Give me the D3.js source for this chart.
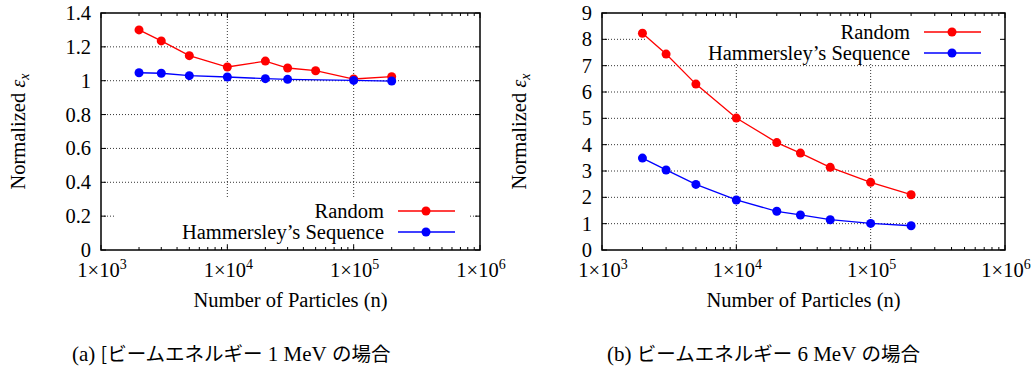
<!DOCTYPE html>
<html>
<head>
<meta charset="utf-8">
<script src="https://cdn.jsdelivr.net/npm/d3@7"></script>
<style>
  body { margin: 0; background: #fff; }
  html body svg#chart text, html body svg#chart tspan { font-family: 'Liberation Serif' !important; }
  html body svg#chart tspan.jp { font-family: 'Noto Sans CJK JP' !important; }
</style>
</head>
<body>
<svg id="chart" width="1033" height="371"></svg>
<script>
// particle counts
var particles = [2000, 3000, 5000, 10000, 20000, 30000, 50000, 100000, 200000];
var particlesHam1 = [2000, 3000, 5000, 10000, 20000, 30000, 100000, 200000];

// (a) 1 MeV
var random1 = [1.30, 1.235, 1.148, 1.081, 1.116, 1.075, 1.059, 1.01, 1.024];
var hammersley1 = [1.047, 1.044, 1.03, 1.022, 1.012, 1.008, 1.002, 0.998];

// (b) 6 MeV
var random6 = [8.23, 7.44, 6.30, 5.01, 4.08, 3.68, 3.14, 2.57, 2.10];
var hammersley6 = [3.49, 3.04, 2.49, 1.90, 1.47, 1.33, 1.15, 1.01, 0.92];

var yTicks1 = [0, 0.2, 0.4, 0.6, 0.8, 1, 1.2, 1.4];
var yTicks6 = [0, 1, 2, 3, 4, 5, 6, 7, 8, 9];
var xDecades = [1e3, 1e4, 1e5, 1e6];
var seriesNames = ["Random", "Hammersley\u2019s Sequence"];
var captions = ["[ビームエネルギー 1 MeV の場合", "ビームエネルギー 6 MeV の場合"];

var SERIF = "'Liberation Serif'";
var JP = "'Noto Sans CJK JP'";
var FS = "20.5px";

var svg = d3.select("#chart");

function serifText(sel) {
    return sel.append("text")
        .attr("font-family", "Liberation Serif")
        .style("font-family", SERIF, "important")
        .style("font-size", FS)
        .style("fill", "#000");
}

function drawPanel(p) {
    var g = svg.append("g");
    var x = d3.scaleLog().domain([1e3, 1e6]).range([p.left, p.right]);
    var y = d3.scaleLinear().domain([0, p.ymax]).range([p.bottom, p.top]);

    // grid
    var grid = g.append("g")
        .attr("stroke", "#000")
        .attr("stroke-width", 0.8)
        .attr("stroke-dasharray", "1,2");
    grid.selectAll("line.h")
        .data(p.yTicks.filter(function (d) { return d > 0 && d < p.ymax; }))
        .enter().append("line")
        .attr("x1", p.left).attr("x2", p.right)
        .attr("y1", function (d) { return y(d); })
        .attr("y2", function (d) { return y(d); });
    grid.selectAll("line.v")
        .data([1e4, 1e5])
        .enter().append("line")
        .attr("x1", function (d) { return x(d); })
        .attr("x2", function (d) { return x(d); })
        .attr("y1", p.top).attr("y2", p.bottom);

    // legend box covers the grid (opaque key)
    g.append("rect")
        .attr("x", p.keyBox[0]).attr("y", p.keyBox[1])
        .attr("width", p.keyBox[2]).attr("height", p.keyBox[3])
        .attr("fill", "#fff");

    // ticks
    var ticks = g.append("g").attr("stroke", "#000").attr("stroke-width", 1);
    var minor = [];
    [1e3, 1e4, 1e5].forEach(function (dec) {
        for (var k = 2; k <= 9; k++) minor.push(dec * k);
    });
    [[p.bottom, -1], [p.top, 1]].forEach(function (side) {
        ticks.selectAll(null).data(xDecades).enter().append("line")
            .attr("x1", function (d) { return x(d); })
            .attr("x2", function (d) { return x(d); })
            .attr("y1", side[0]).attr("y2", side[0] + side[1] * 5);
        ticks.selectAll(null).data(minor).enter().append("line")
            .attr("x1", function (d) { return x(d); })
            .attr("x2", function (d) { return x(d); })
            .attr("y1", side[0]).attr("y2", side[0] + side[1] * 3);
    });
    [[p.left, 1], [p.right, -1]].forEach(function (side) {
        ticks.selectAll(null).data(p.yTicks).enter().append("line")
            .attr("x1", side[0]).attr("x2", side[0] + side[1] * 5)
            .attr("y1", function (d) { return y(d); })
            .attr("y2", function (d) { return y(d); });
    });

    // frame
    g.append("rect")
        .attr("x", p.left).attr("y", p.top)
        .attr("width", p.right - p.left).attr("height", p.bottom - p.top)
        .attr("fill", "none").attr("stroke", "#000").attr("stroke-width", 1.5);

    // y tick labels
    p.yTicks.forEach(function (d) {
        serifText(g)
            .attr("x", p.left - 10)
            .attr("y", y(d) + 7)
            .attr("text-anchor", "end")
            .text(d3.format("~g")(d));
    });

    // x tick labels 1×10^n
    xDecades.forEach(function (d) {
        var t = serifText(g)
            .attr("x", x(d) + 1)
            .attr("y", p.bottom + 27)
            .attr("text-anchor", "middle");
        t.append("tspan").text("1\u00d710");
        t.append("tspan")
            .attr("dy", -8).style("font-size", "14px")
            .text(Math.round(Math.log10(d)));
    });

    // axis titles
    serifText(g)
        .attr("x", (p.left + p.right) / 2)
        .attr("y", p.bottom + 57)
        .attr("text-anchor", "middle")
        .text("Number of Particles (n)");
    var yt = serifText(g)
        .attr("transform", "translate(" + (p.left - 76) + "," + ((p.top + p.bottom) / 2) + ") rotate(-90)")
        .attr("text-anchor", "middle");
    yt.append("tspan").text("Normalized ");
    yt.append("tspan").style("font-style", "italic").text("\u03b5");
    yt.append("tspan").style("font-style", "italic").style("font-size", "14px").attr("dy", 4).text("x");

    // series
    var series = [
        { xs: particles, ys: p.random, color: "#ff0000" },
        { xs: p.hamX, ys: p.ham, color: "#0000ff" }
    ];
    var line = d3.line()
        .x(function (d) { return x(d[0]); })
        .y(function (d) { return y(d[1]); });
    series.forEach(function (s) {
        var pts = s.xs.map(function (v, i) { return [v, s.ys[i]]; });
        g.append("path").datum(pts)
            .attr("d", line)
            .attr("fill", "none")
            .attr("stroke", s.color)
            .attr("stroke-width", 1.3);
        g.selectAll(null).data(pts).enter().append("circle")
            .attr("cx", function (d) { return x(d[0]); })
            .attr("cy", function (d) { return y(d[1]); })
            .attr("r", 4.5)
            .attr("fill", s.color);
    });

    // legend
    series.forEach(function (s, i) {
        var ly = p.keyY + i * 21;
        serifText(g)
            .attr("x", p.keyX)
            .attr("y", ly + 7)
            .attr("text-anchor", "end")
            .text(seriesNames[i]);
        g.append("line")
            .attr("x1", p.keyX + 14).attr("x2", p.keyX + 71)
            .attr("y1", ly).attr("y2", ly)
            .attr("stroke", s.color).attr("stroke-width", 1.3);
        g.append("circle")
            .attr("cx", p.keyX + 42).attr("cy", ly).attr("r", 4.5)
            .attr("fill", s.color);
    });

    // caption
    var cap = serifText(svg)
        .attr("x", p.capX)
        .attr("y", 361)
        .style("font-size", "21px");
    cap.append("tspan").text(p.capLabel + "\u00a0");
    var parts = p.caption.split(/( \d MeV )/);
    cap.append("tspan").attr("class", "jp").style("font-family", JP, "important").style("font-size", "19.5px").text(parts[0]);
    cap.append("tspan").text(parts[1].replace(/ /g, "\u00a0"));
    cap.append("tspan").attr("class", "jp").style("font-family", JP, "important").style("font-size", "19.5px").text(parts[2]);
}

drawPanel({
    left: 101, right: 480, top: 13, bottom: 250, ymax: 1.4,
    yTicks: yTicks1, random: random1, ham: hammersley1, hamX: particlesHam1,
    keyX: 384, keyY: 211, keyBox: [116, 199, 352, 45],
    capX: 72, capLabel: "(a)", caption: captions[0]
});

drawPanel({
    left: 602, right: 1005, top: 13, bottom: 250, ymax: 9,
    yTicks: yTicks6, random: random6, ham: hammersley6, hamX: particles,
    keyX: 910, keyY: 32, keyBox: [646, 15, 356, 48],
    capX: 607, capLabel: "(b)", caption: captions[1]
});
</script>
</body>
</html>
